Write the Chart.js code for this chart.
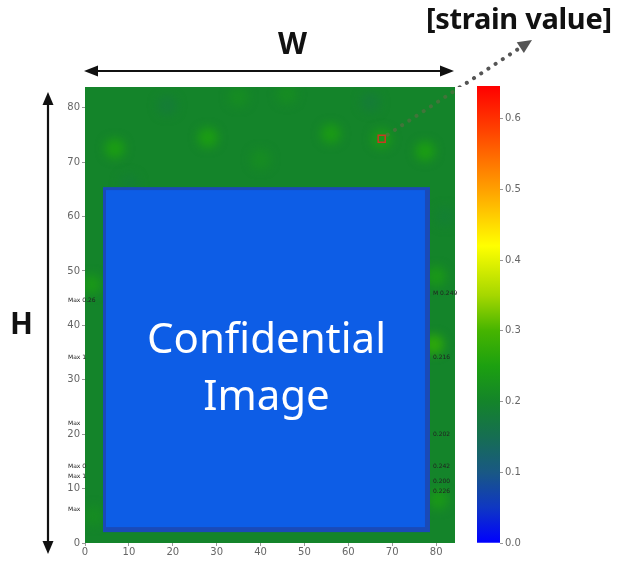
<!DOCTYPE html>
<html>
<head>
<meta charset="utf-8">
<script src="https://cdn.jsdelivr.net/npm/chart.js@4.4.1/dist/chart.umd.min.js"></script>
<style>
  body { margin: 0; background: #fff; }
  #wrap { position: relative; width: 618px; height: 562px; overflow: hidden; }
  canvas { position: absolute; left: 0; top: 0; }
  .lbl { position: absolute; font-family: "Noto Sans", sans-serif; font-weight: bold; color: #111; white-space: nowrap; line-height: normal; }
  #wLabel { left: 278px; top: 22px; font-size: 30px; }
  #hLabel { left: 10px; top: 302px; font-size: 30px; }
  #strainLabel { left: 426px; top: -2px; font-size: 29px; letter-spacing: -0.3px; }
  #maskText { position: absolute; left: 103px; width: 327px; top: 308px; text-align: center;
    font-family: "Noto Sans", sans-serif; font-size: 42px; line-height: 57px; color: #fff; }
</style>
</head>
<body>
<div id="wrap">
  <canvas id="strainChart" width="618" height="562"></canvas>
  <canvas id="barChart" width="618" height="562"></canvas>
  <div class="lbl" id="wLabel">W</div>
  <div class="lbl" id="hLabel">H</div>
  <div class="lbl" id="strainLabel">[strain value]</div>
  <div id="maskText">Confidential<br>Image</div>
</div>
<script>
// plate size and axis ticks
const plateW = 84.3;
const plateH = 83.8;
const xTicks = [0, 10, 20, 30, 40, 50, 60, 70, 80];
const yTicks = [0, 10, 20, 30, 40, 50, 60, 70, 80];

// strain field: base value + local spots
const fieldStrain = 0.2;
const spotX = [6.8, 28, 56, 77.5, 40, 67.6, 1.5, 80, 79.5, 80.5, 2, 18.7, 65, 35, 46, 10, 82];
const spotY = [72.5, 74.5, 75.2, 72, 70.5, 74.3, 47.5, 49, 36.5, 8, 5, 80.4, 81, 82, 82.5, 66, 60];
const spotStrain = [0.245, 0.245, 0.24, 0.245, 0.215, 0.235, 0.235, 0.235, 0.27, 0.235, 0.215, 0.185, 0.185, 0.215, 0.215, 0.19, 0.19];

// measuring point (red square)
const probe = { x: 67.6, y: 74.3 };

// hidden area: x0, y0, x1, y1
const maskBox = [4.1, 2.0, 78.6, 65.4];

// small notes along the edges
const leftNotes = ["Max 0.26", "Max 1", "Max", "Max 0", "Max 1", "Max"];
const leftNoteY = [44.6, 34.1, 22.0, 14.1, 12.3, 6.1];
const rightNotes = ["M 0.249", "0.216", "0.202", "0.242", "0.200", "0.226"];
const rightNoteY = [45.9, 34.1, 20.0, 14.1, 11.4, 9.5];

// colour bar
const barMax = 0.646;
const barTicks = [0, 0.1, 0.2, 0.3, 0.4, 0.5, 0.6];

// colour map (value, r, g, b)
const cmap = [
  [0.00, 0, 0, 255],
  [0.05, 15, 55, 195],
  [0.10, 25, 88, 132],
  [0.15, 22, 110, 82],
  [0.20, 20, 132, 42],
  [0.25, 28, 160, 16],
  [0.30, 70, 180, 0],
  [0.35, 165, 215, 0],
  [0.42, 255, 255, 0],
  [0.50, 255, 160, 0],
  [0.58, 255, 70, 0],
  [0.646, 255, 0, 0]
];

function strainColor(v) {
  for (let i = 1; i < cmap.length; i++) {
    if (v <= cmap[i][0]) {
      const a = cmap[i - 1], b = cmap[i];
      const t = (v - a[0]) / (b[0] - a[0]);
      const c = [1, 2, 3].map(k => Math.round(a[k] + (b[k] - a[k]) * t));
      return `rgb(${c[0]},${c[1]},${c[2]})`;
    }
  }
  return "rgb(255,0,0)";
}

function arrowHead(ctx, x, y, ang, len, wid, color) {
  ctx.save();
  ctx.translate(x, y);
  ctx.rotate(ang);
  ctx.fillStyle = color;
  ctx.beginPath();
  ctx.moveTo(0, 0);
  ctx.lineTo(-len, -wid / 2);
  ctx.lineTo(-len, wid / 2);
  ctx.closePath();
  ctx.fill();
  ctx.restore();
}

const fieldPlugin = {
  id: "field",
  beforeDatasetsDraw(chart) {
    const { ctx, scales: { x, y } } = chart;
    ctx.save();
    ctx.fillStyle = strainColor(fieldStrain);
    ctx.fillRect(x.getPixelForValue(0), y.getPixelForValue(plateH),
      x.getPixelForValue(plateW) - x.getPixelForValue(0), y.getPixelForValue(0) - y.getPixelForValue(plateH));
    ctx.restore();
  },
  beforeDatasetDraw(chart, args) {
    if (args.index === 0) {
      chart.ctx.save();
      chart.ctx.filter = "blur(5px)";
    }
  },
  afterDatasetDraw(chart, args) {
    if (args.index !== 0) return;
    const ctx = chart.ctx;
    ctx.restore();
    const { x, y } = chart.scales;
    const x0 = x.getPixelForValue(maskBox[0]), x1 = x.getPixelForValue(maskBox[2]);
    const y0 = y.getPixelForValue(maskBox[3]), y1 = y.getPixelForValue(maskBox[1]);
    ctx.save();
    ctx.fillStyle = "#1a4ab8";
    ctx.fillRect(x0, y0, x1 - x0, y1 - y0);
    ctx.fillStyle = "#0d5de6";
    ctx.fillRect(x0 + 3, y0 + 3, x1 - x0 - 8, y1 - y0 - 8);
    // notes
    ctx.font = "6px 'DejaVu Sans'";
    ctx.fillStyle = "#222";
    ctx.textBaseline = "middle";
    ctx.textAlign = "left";
    leftNotes.forEach((t, i) => ctx.fillText(t, chart.chartArea.left - 17, y.getPixelForValue(leftNoteY[i])));
    rightNotes.forEach((t, i) => ctx.fillText(t, chart.chartArea.right - 22, y.getPixelForValue(rightNoteY[i])));
    ctx.restore();
  },
  afterDraw(chart) {
    const { ctx, chartArea: a, scales: { x, y } } = chart;
    ctx.save();
    // W arrow
    const wy = a.top - 16;
    ctx.strokeStyle = "#111";
    ctx.lineWidth = 2.2;
    ctx.beginPath();
    ctx.moveTo(a.left + 8, wy);
    ctx.lineTo(a.right - 8, wy);
    ctx.stroke();
    arrowHead(ctx, a.left - 1, wy, Math.PI, 14, 11, "#111");
    arrowHead(ctx, a.right - 1, wy, 0, 14, 11, "#111");
    // H arrow
    const hx = a.left - 37;
    ctx.beginPath();
    ctx.moveTo(hx, a.top + 14);
    ctx.lineTo(hx, a.bottom + 2);
    ctx.stroke();
    arrowHead(ctx, hx, a.top + 5, -Math.PI / 2, 13, 11, "#111");
    arrowHead(ctx, hx, a.bottom + 11, Math.PI / 2, 13, 11, "#111");
    // dotted leader from probe to label
    const px = x.getPixelForValue(probe.x), py = y.getPixelForValue(probe.y);
    const tx = 532, ty = 40;
    const ang = Math.atan2(ty - py, tx - px);
    const ex = tx - Math.cos(ang) * 11, ey = ty - Math.sin(ang) * 11;
    ctx.lineCap = "round";
    ctx.setLineDash([0.1, 8.5]);
    ctx.lineWidth = 4;
    ctx.save();
    ctx.beginPath();
    ctx.rect(a.left, a.top, a.right - a.left, a.bottom - a.top);
    ctx.clip();
    ctx.strokeStyle = "rgba(150,90,90,0.35)";
    ctx.beginPath();
    ctx.moveTo(px + 6, py - 4);
    ctx.lineTo(ex, ey);
    ctx.stroke();
    ctx.restore();
    ctx.save();
    ctx.beginPath();
    ctx.rect(a.right, 0, chart.width - a.right, a.top);
    ctx.rect(a.left, 0, a.right - a.left, a.top);
    ctx.clip();
    ctx.strokeStyle = "#555";
    ctx.beginPath();
    ctx.moveTo(px + 6, py - 4);
    ctx.lineTo(ex, ey);
    ctx.stroke();
    ctx.restore();
    ctx.setLineDash([]);
    arrowHead(ctx, tx, ty, ang, 14, 13, "#555");
    ctx.restore();
  }
};

const strainChart = new Chart(document.getElementById("strainChart"), {
  type: "scatter",
  data: {
    datasets: [
      {
        data: spotX.map((v, i) => ({ x: v, y: spotY[i] })),
        backgroundColor: spotStrain.map(strainColor),
        borderWidth: 0,
        pointRadius: 10,
        order: 2
      },
      {
        data: [probe],
        pointStyle: "rect",
        pointRadius: 5,
        backgroundColor: "rgba(0,0,0,0)",
        borderColor: "#c83a22",
        borderWidth: 1.5,
        order: 1
      }
    ]
  },
  options: {
    responsive: false,
    animation: false,
    events: [],
    layout: { padding: { left: 55, top: 87, right: 163, bottom: 0 } },
    plugins: { legend: { display: false }, tooltip: { enabled: false } },
    scales: {
      x: {
        type: "linear", min: 0, max: plateW,
        afterBuildTicks: s => { s.ticks = xTicks.map(v => ({ value: v })); },
        afterFit: s => { s.height = 19; },
        ticks: { color: "#666", font: { family: "DejaVu Sans", size: 10 }, padding: 0, maxRotation: 0 },
        grid: { display: true, drawOnChartArea: false, tickLength: 3, color: "#999" },
        border: { display: false }
      },
      y: {
        type: "linear", min: 0, max: plateH,
        afterBuildTicks: s => { s.ticks = yTicks.map(v => ({ value: v })); },
        afterFit: s => { s.width = 30; },
        ticks: { color: "#666", font: { family: "DejaVu Sans", size: 10 }, padding: 2 },
        grid: { display: true, drawOnChartArea: false, tickLength: 3, color: "#999" },
        border: { display: false }
      }
    }
  },
  plugins: [fieldPlugin]
});

const barChart = new Chart(document.getElementById("barChart"), {
  type: "bar",
  data: {
    labels: ["strain"],
    datasets: [{
      data: [[0, barMax]],
      barPercentage: 1,
      categoryPercentage: 1,
      backgroundColor: c => {
        const ch = c.chart;
        if (!ch.chartArea) return "#0f0";
        const ys = ch.scales.y;
        const g = ch.ctx.createLinearGradient(0, ys.getPixelForValue(0), 0, ys.getPixelForValue(barMax));
        cmap.forEach(s => g.addColorStop(Math.min(1, s[0] / barMax), strainColor(s[0])));
        return g;
      }
    }]
  },
  options: {
    responsive: false,
    animation: false,
    events: [],
    layout: { padding: { left: 477, top: 86, right: 78, bottom: 19 } },
    plugins: { legend: { display: false }, tooltip: { enabled: false } },
    scales: {
      x: { display: false },
      y: {
        position: "right", min: 0, max: barMax,
        afterBuildTicks: s => { s.ticks = barTicks.map(v => ({ value: v })); },
        afterFit: s => { s.width = 40; },
        ticks: { color: "#666", font: { family: "DejaVu Sans", size: 10 }, padding: 2, callback: v => v.toFixed(1) },
        grid: { display: true, drawOnChartArea: false, tickLength: 3, color: "#999" },
        border: { display: false }
      }
    }
  }
});
</script>
</body>
</html>
